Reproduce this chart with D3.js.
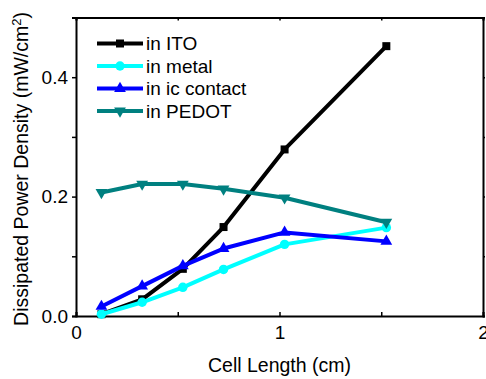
<!DOCTYPE html>
<html>
<head>
<meta charset="utf-8">
<script src="https://cdn.jsdelivr.net/npm/d3@7"></script>
<style>
  body { margin: 0; background: #fff; }
  svg { font-family: Arial, "Liberation Sans", sans-serif; }
</style>
</head>
<body>
<svg width="486" height="379"></svg>
<script>
// cell lengths (cm)
const cellLength = [0.125, 0.325, 0.525, 0.725, 1.025, 1.525];

// dissipated power density (mW/cm^2)
const inITO = [0.003, 0.028, 0.079, 0.149, 0.279, 0.452];
const inMetal = [0.003, 0.023, 0.048, 0.078, 0.12, 0.148];
const inContact = [0.016, 0.05, 0.084, 0.113, 0.14, 0.125];
const inPEDOT = [0.207, 0.221, 0.221, 0.213, 0.198, 0.157];

const seriesNames = ["in ITO", "in metal", "in ic contact", "in PEDOT"];
const xTicks = [0, 1, 2];
const yTicks = [0.0, 0.2, 0.4];

const series = [
  { name: seriesNames[0], values: inITO, color: "#000000", symbol: d3.symbolSquare, size: 64, rot: 0 },
  { name: seriesNames[1], values: inMetal, color: "#00ffff", symbol: d3.symbolCircle, size: 70, rot: 0 },
  { name: seriesNames[2], values: inContact, color: "#0000ff", symbol: d3.symbolTriangle, size: 60, rot: 0 },
  { name: seriesNames[3], values: inPEDOT, color: "#008080", symbol: d3.symbolTriangle, size: 60, rot: 180 }
];

const svg = d3.select("svg");
const margin = { left: 76, right: 3, top: 17.5, bottom: 63 };
const width = 486 - margin.left - margin.right;
const height = 379 - margin.top - margin.bottom;

const x = d3.scaleLinear().domain([0, 2]).range([0, width]);
const y = d3.scaleLinear().domain([0, 0.5]).range([height, 0]);

const g = svg.append("g").attr("transform", `translate(${margin.left},${margin.top})`);

// ===========================================================================
// Axes (frame with ticks)
// ===========================================================================
const fmtY = d3.format(".1f");

g.append("g")
  .attr("transform", `translate(0,${height})`)
  .call(d3.axisBottom(x).tickValues(d3.range(0, 2.01, 0.5)).tickSize(-4).tickPadding(9)
    .tickFormat((d) => (xTicks.includes(d) ? d3.format("d")(d) : "")))
  .call((a) => a.selectAll("text").attr("font-size", 19).attr("fill", "#000").attr("dy", "0.72em").attr("font-family", null));

g.append("g")
  .call(d3.axisLeft(y).tickValues(d3.range(0, 0.51, 0.1)).tickSize(4).tickPadding(4)
    .tickFormat((d) => (yTicks.some((t) => Math.abs(t - d) < 1e-9) ? fmtY(d) : "")))
  .call((a) => a.selectAll("text").attr("font-size", 19).attr("fill", "#000").attr("font-family", null));

g.append("g")
  .call(d3.axisTop(x).tickValues(d3.range(0, 2.01, 0.5)).tickSize(-3).tickFormat(""));

g.append("g")
  .attr("transform", `translate(${width},0)`)
  .call(d3.axisRight(y).tickValues(d3.range(0, 0.51, 0.1)).tickSize(2).tickFormat(""));

g.selectAll(".domain").attr("stroke", "#000").attr("stroke-width", 2);
g.selectAll(".tick line").attr("stroke", "#000").attr("stroke-width", 1.5);

// ===========================================================================
// Lines and markers
// ===========================================================================
const line = d3.line().x((d, i) => x(cellLength[i])).y((d) => y(d));

series.forEach((s) => {
  g.append("path")
    .datum(s.values)
    .attr("fill", "none")
    .attr("stroke", s.color)
    .attr("stroke-width", 4)
    .attr("stroke-linejoin", "round")
    .attr("d", line);

  g.selectAll(null)
    .data(s.values)
    .enter()
    .append("path")
    .attr("d", d3.symbol().type(s.symbol).size(s.size))
    .attr("fill", s.color)
    .attr("transform", (d, i) => `translate(${x(cellLength[i])},${y(d)}) rotate(${s.rot})`);
});

// ===========================================================================
// Legend
// ===========================================================================
const legend = svg.append("g").attr("transform", "translate(97,43.5)");
series.forEach((s, i) => {
  const row = legend.append("g").attr("transform", `translate(0,${i * 22.5})`);
  row.append("line").attr("x1", 0).attr("x2", 46).attr("stroke", s.color).attr("stroke-width", 4);
  row.append("path")
    .attr("d", d3.symbol().type(s.symbol).size(s.size))
    .attr("fill", s.color)
    .attr("transform", `translate(23,0) rotate(${s.rot})`);
  row.append("text").attr("x", 49).attr("dy", "0.36em").attr("font-size", 19).text(s.name);
});

// ===========================================================================
// Axis titles
// ===========================================================================
svg.append("text")
  .attr("x", margin.left + width / 2)
  .attr("y", 372)
  .attr("text-anchor", "middle")
  .attr("font-size", 19.5)
  .text("Cell Length (cm)");

const yt = svg.append("text")
  .attr("transform", "translate(28,169) rotate(-90)")
  .attr("text-anchor", "middle")
  .attr("font-size", 19.5);
yt.append("tspan").text("Dissipated Power Density (mW/cm");
yt.append("tspan").attr("baseline-shift", "super").attr("font-size", 13).text("2");
yt.append("tspan").text(")");
</script>
</body>
</html>
